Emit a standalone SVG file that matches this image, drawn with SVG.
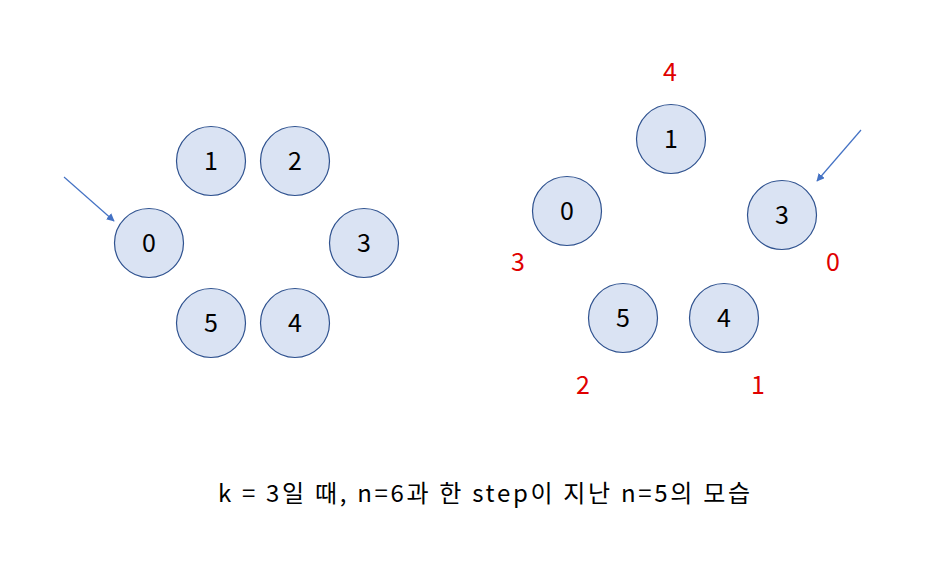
<svg xmlns="http://www.w3.org/2000/svg" width="939" height="582" viewBox="0 0 939 582">
<style>
.n{fill:#DAE3F3;stroke:#2F528F;stroke-width:1.2}
.t{font-family:"Noto Sans CJK KR","Noto Sans",sans-serif;font-size:25px;fill:#000;text-anchor:middle}
.r{font-family:"Noto Sans CJK KR","Noto Sans",sans-serif;font-size:25px;fill:#E00000;text-anchor:middle}
.cap{font-family:"Noto Sans CJK KR","Noto Sans",sans-serif;font-size:24px;fill:#000}
.c{stroke:#4472C4;stroke-width:1.2;fill:none}
</style>
<defs>
<marker id="ah" viewBox="0 0 10 10" refX="9" refY="5" markerWidth="8" markerHeight="8" markerUnits="userSpaceOnUse" orient="auto">
<path d="M0,0 L10,5 L0,10 z" fill="#4472C4"/>
</marker>
</defs>
<rect width="939" height="582" fill="#fff"/>
<g id="connectors">
<line class="c" x1="64" y1="177" x2="114" y2="221" marker-end="url(#ah)"/>
<line class="c" x1="861" y1="130" x2="817" y2="181" marker-end="url(#ah)"/>
</g>
<g id="L0"><circle class="n" cx="149" cy="243" r="34.5"/><text class="t" x="149" y="252">0</text></g>
<g id="L1"><circle class="n" cx="211" cy="161" r="34.5"/><text class="t" x="211" y="170">1</text></g>
<g id="L2"><circle class="n" cx="295" cy="161" r="34.5"/><text class="t" x="295" y="170">2</text></g>
<g id="L3"><circle class="n" cx="364" cy="243" r="34.5"/><text class="t" x="364" y="252">3</text></g>
<g id="L4"><circle class="n" cx="295" cy="323" r="34.5"/><text class="t" x="295" y="332">4</text></g>
<g id="L5"><circle class="n" cx="211" cy="323" r="34.5"/><text class="t" x="211" y="332">5</text></g>
<g id="R1"><circle class="n" cx="671" cy="139" r="34.5"/><text class="t" x="671" y="148">1</text></g>
<g id="R0"><circle class="n" cx="567" cy="211" r="34.5"/><text class="t" x="567" y="220">0</text></g>
<g id="R3"><circle class="n" cx="782" cy="215" r="34.5"/><text class="t" x="782" y="224">3</text></g>
<g id="R5"><circle class="n" cx="623" cy="318" r="34.5"/><text class="t" x="623" y="327">5</text></g>
<g id="R4"><circle class="n" cx="724" cy="318" r="34.5"/><text class="t" x="724" y="327">4</text></g>
<g id="labels">
<text class="r" x="670" y="81">4</text>
<text class="r" x="518" y="271">3</text>
<text class="r" x="833" y="271">0</text>
<text class="r" x="583" y="394">2</text>
<text class="r" x="758" y="394">1</text>
</g>
<text id="caption" class="cap" x="218" y="502" textLength="532" lengthAdjust="spacing">k = 3일 때, n=6과 한 step이 지난 n=5의 모습</text>
</svg>
